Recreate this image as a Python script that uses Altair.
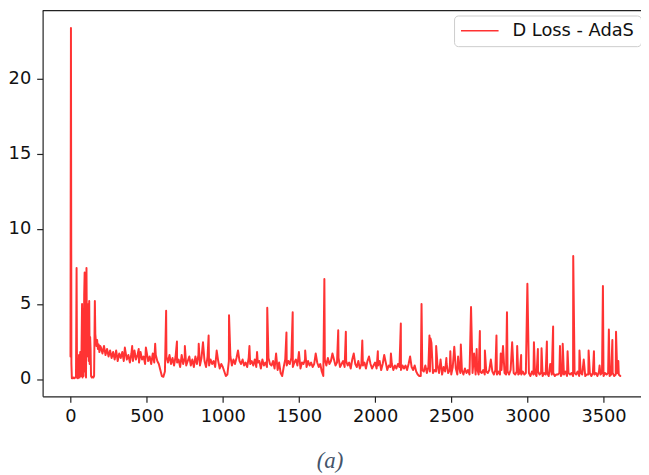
import altair as alt
import pandas as pd

# ---- data ----
series_name = "D Loss - AdaS"

early_steps = [0, 3, 6, 9, 15, 20, 25, 30, 36, 40,
               43, 48, 52, 56, 60, 64, 68, 72, 76, 79,
               82, 86, 90, 93, 96, 99, 102, 105, 108, 111,
               114, 117, 120, 123, 126, 129, 132, 135, 140, 145,
               150, 155, 160, 163, 167, 171, 175, 180, 185, 190,
               195]
early_loss = [1.5, 23.4, 1.0, 0.05, 0.05, 0.1, 0.05, 0.1, 0.1, 7.4,
              0.1, 0.05, 0.1, 1.6, 0.1, 1.8, 0.2, 1.5, 5.0, 0.1,
              3.0, 0.2, 5.6, 7.1, 0.5, 3.8, 0.1, 7.4, 2.0, 5.0,
              1.5, 3.5, 1.2, 5.2, 1.0, 2.8, 2.0, 0.2, 0.1, 0.15,
              0.1, 0.2, 5.2, 3.0, 2.5, 2.2, 2.6, 2.0, 2.3, 1.8,
              2.2]

# baseline loss, sampled every 10 steps from 200 to 3610
baseline_steps = list(range(200, 3620, 10))
baseline_loss = [
    2.1, 1.7, 2.2, 1.6, 2.0, 1.5, 1.9, 1.4, 1.8, 1.3, 1.9, 1.2, 1.7, 1.4, 1.8, 1.2, 1.9, 1.3, 1.6, 1.1,
    1.7, 1.2, 1.9, 1.3, 1.6, 1.1, 1.8, 1.3, 1.5, 1.0, 1.8, 1.2, 1.5, 1.0, 1.7, 1.1, 1.6, 1.2, 1.0, 0.6,
    0.2, 0.15, 0.5, 1.5, 1.1, 1.6, 1.0, 1.4, 0.9, 1.5, 1.1, 1.3, 0.8, 1.6, 1.0, 1.4, 0.9, 1.2, 1.5, 0.9,
    1.3, 0.8, 1.5, 1.0, 1.6, 0.9, 1.4, 1.1, 1.2, 0.8, 1.5, 0.9, 1.3, 1.0, 1.2, 0.8, 1.1, 1.2, 0.7, 1.0,
    0.8, 0.5, 0.2, 0.3, 1.2, 1.5, 0.9, 1.3, 1.0, 1.4, 0.8, 1.2, 1.0, 1.3, 0.9, 1.1, 0.8, 1.4, 1.0, 1.2,
    0.9, 1.3, 0.8, 1.1, 1.2, 0.7, 1.3, 0.9, 1.1, 0.8, 1.4, 1.0, 0.9, 1.2, 0.7, 1.0, 0.6, 1.1, 0.4, 0.2,
    0.8, 1.3, 0.9, 1.2, 1.0, 1.4, 0.8, 1.1, 1.3, 0.9, 1.2, 0.7, 1.1, 1.0, 1.3, 0.8, 1.2, 0.9, 1.1, 0.8,
    1.0, 0.7, 1.1, 0.8, 1.0, 0.5, 0.2, 1.3, 0.9, 1.4, 1.0, 1.2, 0.8, 1.3, 0.9, 1.1, 1.4, 0.8, 1.0, 1.2,
    0.8, 1.2, 0.9, 1.1, 0.7, 1.3, 0.9, 1.0, 0.8, 1.2, 0.7, 1.0, 0.9, 1.1, 0.7, 1.2, 0.8, 1.0, 0.7, 0.9,
    1.1, 0.7, 0.9, 1.2, 0.6, 1.0, 0.8, 1.1, 0.6, 0.9, 0.8, 1.0, 0.6, 0.9, 0.7, 1.0, 0.8, 0.6, 0.9, 0.7,
    0.9, 0.6, 1.0, 0.7, 0.8, 0.6, 0.9, 0.5, 0.3, 0.2, 0.2, 0.6, 0.5, 0.9, 0.4, 0.8, 0.5, 0.7, 0.4, 0.6,
    0.5, 0.9, 0.4, 0.7, 0.3, 0.8, 0.5, 1.0, 0.4, 0.6, 0.3, 0.8, 0.4, 0.7, 0.3, 0.9, 0.4, 0.6, 0.3, 0.7,
    0.4, 0.6, 0.3, 0.8, 0.4, 0.5, 0.3, 0.7, 0.3, 0.5, 0.4, 0.6, 0.3, 0.5, 0.4, 0.6, 0.3, 0.5, 0.3, 0.6,
    0.3, 0.5, 0.3, 0.6, 0.3, 0.4, 0.3, 0.5, 0.3, 0.6, 0.3, 0.4, 0.3, 0.5, 0.3, 0.4, 0.3, 0.5, 0.3, 0.4,
    0.3, 0.4, 0.2, 0.5, 0.3, 0.4, 0.2, 0.5, 0.3, 0.4, 0.2, 0.4, 0.3, 0.4, 0.2, 0.5, 0.3, 0.4, 0.2, 0.3,
    0.3, 0.4, 0.2, 0.4, 0.3, 0.5, 0.2, 0.4, 0.3, 0.4, 0.2, 0.4, 0.3, 0.5, 0.2, 0.4, 0.3, 0.4, 0.2, 0.3,
    0.3, 0.4, 0.2, 0.4, 0.3, 0.4, 0.2, 0.5, 0.3, 0.4, 0.2, 0.4, 0.3, 0.4, 0.2, 0.3, 0.4, 0.2, 0.3, 0.4,
    0.3, 0.2,
]

spike_steps = [357, 405, 448, 495, 556, 628, 699, 751, 842, 870,
               907, 960, 1041, 1100, 1175, 1225, 1292, 1350, 1418, 1459,
               1500, 1541, 1610, 1667, 1720, 1758, 1808, 1860, 1916, 1960,
               2018, 2060, 2104, 2169, 2230, 2305, 2357, 2364, 2370, 2401,
               2430, 2468, 2494, 2520, 2545, 2563, 2630, 2650, 2667, 2688,
               2721, 2760, 2797, 2825, 2840, 2866, 2900, 2933, 2959, 3000,
               3043, 3069, 3093, 3128, 3150, 3169, 3214, 3232, 3264, 3301,
               3342, 3370, 3402, 3437, 3474, 3496, 3535, 3558, 3582, 3597]
spike_loss = [2.1, 2.2, 2.0, 2.1, 2.35, 4.55, 2.5, 2.2, 2.35, 2.45,
              2.9, 1.9, 4.25, 1.9, 2.2, 1.8, 4.75, 1.7, 3.1, 4.45,
              1.8, 1.9, 1.7, 6.66, 1.7, 3.25, 3.15, 1.7, 2.57, 1.5,
              1.85, 1.6, 1.7, 3.7, 1.5, 5.0, 2.9, 2.7, 2.4, 2.2,
              1.3, 1.4, 1.85, 2.15, 1.5, 2.3, 4.8, 1.7, 2.0, 3.2,
              1.9, 1.3, 2.9, 1.7, 2.2, 4.45, 2.45, 2.2, 1.6, 6.35,
              2.45, 2.0, 2.05, 2.5, 1.0, 3.5, 2.2, 2.35, 1.85, 8.2,
              1.9, 1.3, 1.9, 1.85, 0.9, 6.2, 3.3, 2.6, 3.15, 1.2]

x_ticks = [0, 500, 1000, 1500, 2000, 2500, 3000, 3500]
y_ticks = [0, 5, 10, 15, 20]
caption = "(a)"

assert len(baseline_steps) == len(baseline_loss)
assert len(spike_steps) == len(spike_loss)
assert len(early_steps) == len(early_loss)

# ---- build the table ----
points = {}
for s, v in zip(early_steps, early_loss):
    points[s] = v
for s, v in zip(baseline_steps, baseline_loss):
    points[s] = v
for s, v in zip(spike_steps, spike_loss):
    points[s] = v
df = pd.DataFrame(sorted(points.items()), columns=["step", "loss"])
df["series"] = series_name

W, H = 605, 390

line = alt.Chart(df).mark_line(
    strokeWidth=2.0, opacity=0.8, strokeJoin="round", strokeCap="round"
).encode(
    x=alt.X("step:Q",
            scale=alt.Scale(domain=[-183, 3746], nice=False, zero=False),
            axis=alt.Axis(values=x_ticks, title=None, labelFlush=False, format="d",
                          labelPadding=6, grid=False)),
    y=alt.Y("loss:Q",
            scale=alt.Scale(domain=[-1.15, 24.56], nice=False, zero=False),
            axis=alt.Axis(values=y_ticks, title=None, labelPadding=6, grid=False)),
    color=alt.Color("series:N",
                    scale=alt.Scale(domain=[series_name], range=["#ff0000"]),
                    legend=alt.Legend(
                        title=None, orient="none", legendX=416, legendY=5,
                        padding=6.5, strokeColor="#cccccc", fillColor="white",
                        cornerRadius=4,
                        symbolType="M-1.0625,0L3.6875,0", symbolSize=256,
                        symbolStrokeWidth=1.6, symbolOpacity=0.8,
                        symbolStrokeColor="#ff0000",
                        labelOffset=34.5, labelFontSize=18,
                        labelFont="DejaVu Sans", labelColor="#111111")),
)

frame_top = alt.Chart(pd.DataFrame({"k": [0]})).mark_rule(
    color="#222222", strokeWidth=1.2
).encode(x=alt.value(0), x2=alt.value(W), y=alt.value(0))

chart = alt.layer(line, frame_top).properties(
    width=W, height=H,
    autosize=alt.AutoSizeParams(type="none"),
    padding={"left": 35, "top": 0, "right": 0, "bottom": 77},
    title=alt.TitleParams(caption, orient="bottom", anchor="middle",
                          font="Liberation Serif", fontStyle="italic",
                          fontWeight="normal", fontSize=23, color="#44546a",
                          baseline="top", offset=24, dx=-12),
).configure_view(stroke=None).configure_axis(
    domainColor="#222222", domainWidth=1.2, tickColor="#222222", tickWidth=1.2,
    tickSize=6, labelFont="DejaVu Sans", labelFontSize=18, labelColor="#111111",
)

chart.save("out.html", embed_options={"renderer": "svg", "actions": False})
